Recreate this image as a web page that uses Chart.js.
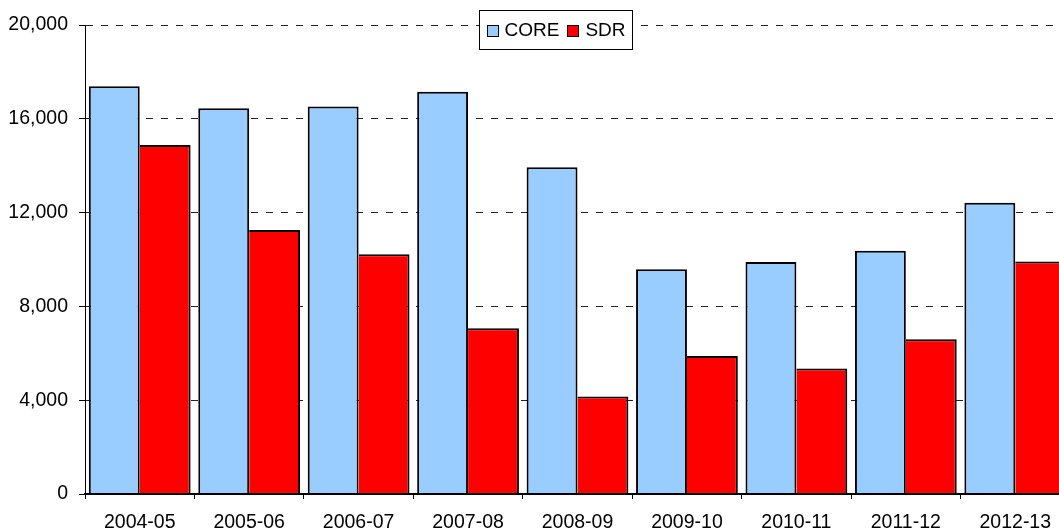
<!DOCTYPE html>
<html>
<head>
<meta charset="utf-8">
<title>CORE / SDR</title>
<script src="https://cdn.jsdelivr.net/npm/chart.js@4/dist/chart.umd.min.js"></script>
<style>
    html, body { margin: 0; padding: 0; background: #fff; overflow: hidden; }
    #wrap { width: 1059px; height: 530px; overflow: hidden; }
</style>
</head>
<body>
<div id="wrap">
    <canvas id="barChart" width="1070" height="530"></canvas>
</div>
<script>
// data
const years = ['2004-05', '2005-06', '2006-07', '2007-08', '2008-09', '2009-10', '2010-11', '2011-12', '2012-13'];
const coreValues = [17390, 16450, 16520, 17150, 13930, 9580, 9890, 10370, 12420];
const sdrValues = [14880, 11260, 10220, 7070, 4160, 5890, 5350, 6600, 9910];
const yTicks = [0, 4000, 8000, 12000, 16000, 20000];

const fontFamily = '"Liberation Sans", Arial, sans-serif';

// boxed legend sitting on top of the plot, like the excel one
const boxLegend = {
    id: 'boxLegend',
    afterDraw: function (chart) {
        let ctx = chart.ctx;
        let centerX = 555, top = 10, height = 39;
        let sq = 11, gapSq = 7, gapItem = 8, padX = 7;
        ctx.save();
        ctx.font = '19px ' + fontFamily;
        let items = chart.data.datasets.map(ds => ({
            text: ds.label,
            color: ds.backgroundColor,
            w: ctx.measureText(ds.label).width
        }));
        let total = padX * 2;
        items.forEach((it, i) => {
            total += sq + gapSq + it.w + (i > 0 ? gapItem : 0);
        });
        total = Math.round(total);
        let left = Math.round(centerX - total / 2) + 0.5;
        ctx.fillStyle = '#fff';
        ctx.fillRect(left, top + 0.5, total, height);
        ctx.strokeStyle = '#000';
        ctx.lineWidth = 1;
        ctx.strokeRect(left, top + 0.5, total, height);

        let x = left + padX;
        let midY = top + height / 2 + 0.5;
        items.forEach((it, i) => {
            if (i > 0) x += gapItem;
            ctx.fillStyle = it.color;
            ctx.fillRect(Math.round(x) + 0.5, Math.round(midY - sq / 2) + 0.5, sq, sq);
            ctx.strokeStyle = '#000';
            ctx.strokeRect(Math.round(x) + 0.5, Math.round(midY - sq / 2) + 0.5, sq, sq);
            x += sq + gapSq;
            ctx.fillStyle = '#000';
            ctx.textBaseline = 'middle';
            ctx.textAlign = 'left';
            ctx.fillText(it.text, x, midY + 1);
            x += it.w;
        });
        ctx.restore();
    }
};

function $id(id) {
    return document.getElementById(id);
}

var barCanvas = $id('barChart').getContext('2d');

var barData = {
    labels: years,
    datasets: [
        {
            label: 'CORE',
            data: coreValues,
            backgroundColor: '#99CCFF',
            borderColor: '#000',
            borderWidth: { top: 2, left: 2, right: 2, bottom: 0 },
            borderSkipped: false,
            inflateAmount: 0,
            categoryPercentage: 0.93,
            barPercentage: 1
        },
        {
            label: 'SDR',
            data: sdrValues,
            backgroundColor: '#FF0000',
            borderColor: '#000',
            borderWidth: { top: 2, left: 0, right: 2, bottom: 0 },
            borderSkipped: false,
            inflateAmount: 0,
            categoryPercentage: 0.93,
            barPercentage: 1
        }
    ]
};

var barOptions = {
    responsive: false,
    animation: false,
    devicePixelRatio: 1,
    layout: {
        padding: { top: 25, right: 0, left: 0, bottom: 0 }
    },
    plugins: {
        legend: { display: false },
        tooltip: { enabled: false }
    },
    scales: {
        x: {
            offset: true,
            afterFit: function (scale) { scale.height = 36; },
            border: { display: true, color: '#000', width: 2, z: 1 },
            grid: {
                offset: true,
                drawOnChartArea: false,
                drawTicks: true,
                tickLength: 5,
                tickColor: '#000'
            },
            ticks: {
                color: '#000',
                padding: 12,
                maxRotation: 0,
                autoSkip: false,
                font: { family: fontFamily, size: 19.5 }
            }
        },
        y: {
            min: 0,
            max: 20000,
            afterFit: function (scale) { scale.width = 85; },
            afterBuildTicks: function (scale) {
                scale.ticks = yTicks.map(v => ({ value: v }));
            },
            // in v4 the grid line dash lives on border.dash
            border: { display: true, color: '#000', width: 1, dash: [7, 8] },
            grid: {
                color: ctx => (ctx.tick && ctx.tick.value === 0) ? 'rgba(0,0,0,0)' : '#222',
                lineWidth: 1,
                drawTicks: true,
                tickLength: 6,
                tickColor: '#000',
                tickBorderDash: []
            },
            ticks: {
                color: '#000',
                padding: 11,
                font: { family: fontFamily, size: 19.5 },
                callback: v => v.toLocaleString('en-US')
            }
        }
    }
};

var barChart = new Chart(barCanvas, {
    type: 'bar',
    data: barData,
    options: barOptions,
    plugins: [boxLegend]
});
</script>
</body>
</html>
